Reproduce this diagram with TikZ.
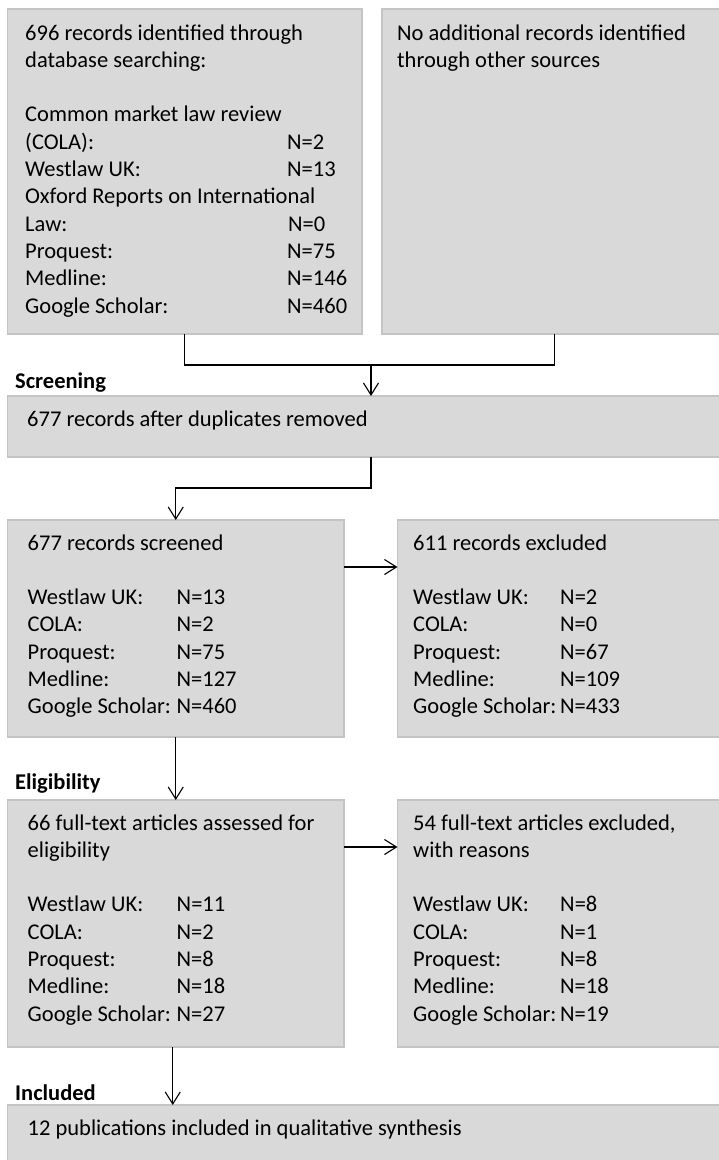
\documentclass[tikz,border=0pt]{standalone}
\usepackage{fontspec}
\setmainfont{Carlito}
\usetikzlibrary{arrows.meta,calc}
\definecolor{boxfill}{HTML}{D9D9D9}
\definecolor{boxline}{HTML}{C4C4C4}
\begin{document}
\begin{tikzpicture}[x=1pt,y=-1pt,
  box/.style={draw=boxline, fill=boxfill, line width=1.2pt, inner sep=0pt, outer sep=0pt, anchor=north west},
  txt/.style={anchor=base west, inner sep=0pt, font=\fontsize{22.5}{27.3}\selectfont},
  lbl/.style={anchor=base west, inner sep=0pt, font=\fontsize{22.5}{27.3}\selectfont\bfseries},
  conn/.style={draw=black, line width=1.1pt},
  arr/.style={conn, -{Straight Barb[length=12pt,width=15pt,line width=1.1pt]}}]
\useasboundingbox[fill=white] (0,0) rectangle (719,1160);
% boxes
\node[box, minimum width=354.5pt, minimum height=325pt] (b1) at (7.5,9) {};
\node[box, minimum width=345pt, minimum height=325pt] (b2) at (382,9) {};
\node[box, minimum width=720pt, minimum height=61pt] (b3) at (7.5,396) {};
\node[box, minimum width=336.5pt, minimum height=217pt] (b4) at (7.5,520) {};
\node[box, minimum width=330pt, minimum height=217pt] (b5) at (397.5,520) {};
\node[box, minimum width=336.5pt, minimum height=247pt] (b6) at (7.5,800) {};
\node[box, minimum width=330pt, minimum height=247pt] (b7) at (397.5,800) {};
\node[box, minimum width=720pt, minimum height=70pt] (b8) at (7.5,1105) {};
% texts
\node[txt] (t1) at (25,40) {\begin{tabular}[t]{@{}l@{}}
696 records identified through\\
database searching:\\
\\
Common market law review\\
\makebox[262pt][l]{(COLA):}N=2\\
\makebox[262pt][l]{Westlaw UK:}N=13\\
Oxford Reports on International\\
\makebox[263pt][l]{Law:}N=0\\
\makebox[262pt][l]{Proquest:}N=75\\
\makebox[262pt][l]{Medline:}N=146\\
\makebox[262pt][l]{Google Scholar:}N=460
\end{tabular}};
\node[txt] (t2) at (397,40) {\begin{tabular}[t]{@{}l@{}}
No additional records identified\\
through other sources
\end{tabular}};
\node[txt] (t3) at (27,426) {677 records after duplicates removed};
\node[txt] (t4) at (27.5,550) {\begin{tabular}[t]{@{}l@{}}
677 records screened\\
\\
\makebox[149pt][l]{Westlaw UK:}N=13\\
\makebox[149pt][l]{COLA:}N=2\\
\makebox[149pt][l]{Proquest:}N=75\\
\makebox[149pt][l]{Medline:}N=127\\
\makebox[149pt][l]{Google Scholar:}N=460
\end{tabular}};
\node[txt] (t5) at (413,550) {\begin{tabular}[t]{@{}l@{}}
611 records excluded\\
\\
\makebox[147pt][l]{Westlaw UK:}N=2\\
\makebox[147pt][l]{COLA:}N=0\\
\makebox[147pt][l]{Proquest:}N=67\\
\makebox[147pt][l]{Medline:}N=109\\
\makebox[147pt][l]{Google Scholar:}N=433
\end{tabular}};
\node[txt] (t6) at (27.5,830) {\begin{tabular}[t]{@{}l@{}}
66 full-text articles assessed for\\
eligibility\\
\\
\makebox[149pt][l]{Westlaw UK:}N=11\\
\makebox[149pt][l]{COLA:}N=2\\
\makebox[149pt][l]{Proquest:}N=8\\
\makebox[149pt][l]{Medline:}N=18\\
\makebox[149pt][l]{Google Scholar:}N=27
\end{tabular}};
\node[txt] (t7) at (413,830) {\begin{tabular}[t]{@{}l@{}}
54 full-text articles excluded,\\
with reasons\\
\\
\makebox[147pt][l]{Westlaw UK:}N=8\\
\makebox[147pt][l]{COLA:}N=1\\
\makebox[147pt][l]{Proquest:}N=8\\
\makebox[147pt][l]{Medline:}N=18\\
\makebox[147pt][l]{Google Scholar:}N=19
\end{tabular}};
\node[txt] (t8) at (27.5,1135) {12 publications included in qualitative synthesis};
% stage labels
\node[lbl] (l1) at (15,388) {Screening};
\node[lbl] (l2) at (15,789) {Eligibility};
\node[lbl] (l3) at (15,1100) {Included};
% connectors
\coordinate (m1) at (371,365);
\draw[conn] (b1.south) |- (m1) -| (b2.south);
\draw[arr] (m1) -- (m1 |- b3.north);
\draw[arr] (b3.south -| m1) -- ++(0,31) -| (b4.north);
\draw[arr] ($(b4.north east)+(0,47)$) -- ($(b5.north west)+(0,47)$);
\draw[arr] (b4.south) -- (b6.north);
\draw[arr] ($(b6.north east)+(0,47)$) -- ($(b7.north west)+(0,47)$);
\draw[arr] ($(b6.south)+(-3,0)$) -- ($(b6.south |- b8.north)+(-3,0)$);
\end{tikzpicture}
\end{document}
